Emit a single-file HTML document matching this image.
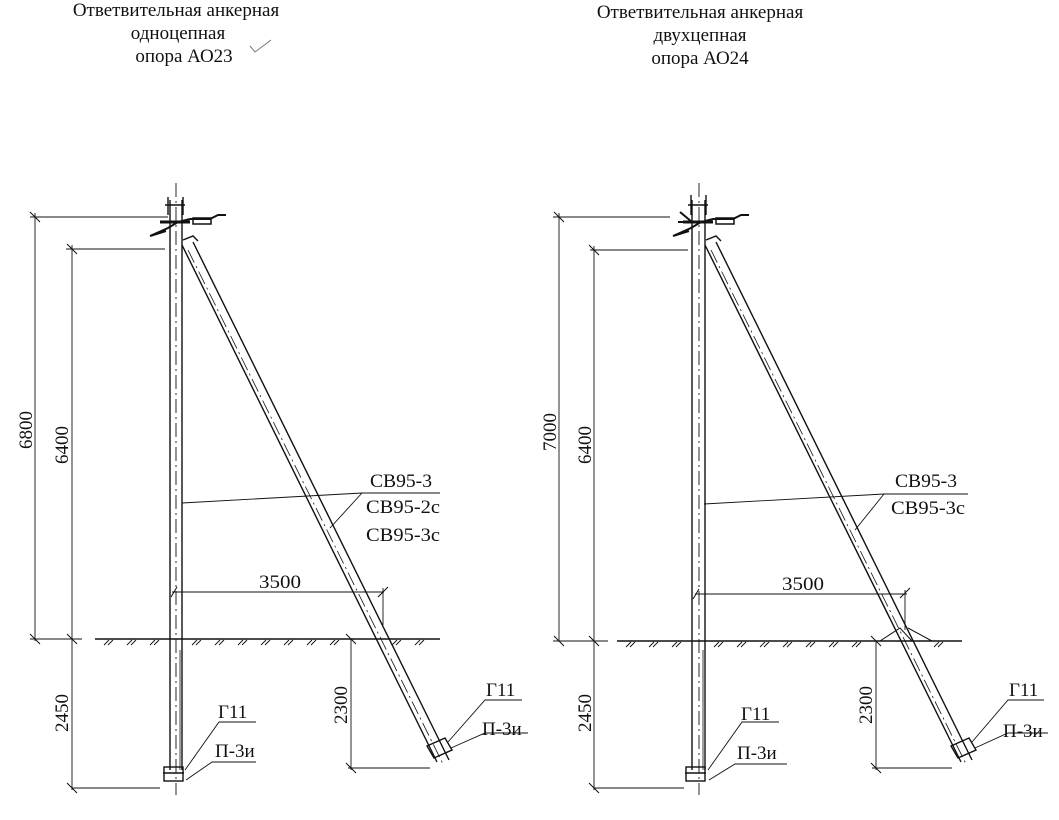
<!DOCTYPE html>
<html><head><meta charset="utf-8"><style>
html,body{margin:0;padding:0;background:#fff}
svg{display:block}
text{font-family:"Liberation Serif","Noto Serif CJK SC",serif;fill:#111}
</style></head><body>
<svg width="1059" height="820" viewBox="0 0 1059 820" xmlns="http://www.w3.org/2000/svg">
<g font-size="19" text-anchor="middle">
<text x="176" y="16">Ответвительная анкерная</text>
<text x="178" y="39">одноцепная</text>
<text x="184" y="62">опора АО23</text>
<text x="700" y="18">Ответвительная анкерная</text>
<text x="700" y="41">двухцепная</text>
<text x="700" y="64">опора АО24</text>
</g>
<path d="M250 46 l5 6 l16 -12" stroke="#777" fill="none" stroke-width="1"/>

<g stroke="#111" fill="none" stroke-width="1.4">
<line x1="176" y1="183" x2="176" y2="795" stroke-width="0.9" stroke-dasharray="14 4 2 4"/>
<line x1="170" y1="200" x2="170" y2="770"/>
<line x1="182" y1="200" x2="182" y2="770"/>
<line x1="180" y1="650" x2="180" y2="770" stroke-width="0.8"/>
<rect x="164" y="767" width="19" height="14"/>
<line x1="163" y1="773" x2="184" y2="773"/>
<path d="M165 205 h20 M168 197 v18 M183 197 v18"/>
<path d="M150 236 l18 -8 l10 -6 l12 -3 l20 0 l8 -4 h8 M150 236 l16 -5" stroke-width="2"/>
<path d="M193 218 h18 v6 h-18z" stroke-width="1.5"/>
<path d="M160 222 h30" stroke-width="3"/>
<line x1="182" y1="245" x2="437" y2="762"/>
<line x1="193" y1="242" x2="449" y2="760"/>
<line x1="188" y1="250" x2="444" y2="766" stroke-width="0.8" stroke-dasharray="14 4 2 4"/>
<path d="M183 240 l10 -4 l5 5 M427 746 l18 -8 l7 12 l-18 8z"/>
<line x1="30" y1="217" x2="168" y2="217" stroke-width="0.9"/>
<line x1="35" y1="213" x2="35" y2="641" stroke-width="0.9"/>
<line x1="66" y1="249" x2="165" y2="249" stroke-width="0.9"/>
<line x1="72" y1="245" x2="72" y2="790" stroke-width="0.9"/>
<line x1="72" y1="788" x2="160" y2="788" stroke-width="0.9"/>
<path d="M30 212 l10 10 M30 634 l10 10 M67 244 l10 10 M67 634 l10 10 M67 783 l10 10 M171 597 l6 -10 M378 597 l10 -10 M346 634 l10 10 M346 763 l10 10" stroke-width="1"/>
<line x1="30" y1="639" x2="82" y2="639" stroke-width="0.9"/>
<line x1="95" y1="639" x2="440" y2="639"/>
<path d="M104 645 l5 -5 M108 645 l5 -5 M127 645 l5 -5 M131 645 l5 -5 M150 645 l5 -5 M154 645 l5 -5 M192 645 l5 -5 M196 645 l5 -5 M215 645 l5 -5 M219 645 l5 -5 M238 645 l5 -5 M242 645 l5 -5 M261 645 l5 -5 M265 645 l5 -5 M284 645 l5 -5 M288 645 l5 -5 M307 645 l5 -5 M311 645 l5 -5 M330 645 l5 -5 M334 645 l5 -5 M392 645 l5 -5 M396 645 l5 -5 M415 645 l5 -5 M419 645 l5 -5" stroke-width="0.9"/>
<line x1="172" y1="592" x2="384" y2="592" stroke-width="0.9"/>
<line x1="383" y1="588" x2="383" y2="625" stroke-width="0.9"/>
<line x1="351" y1="639" x2="351" y2="770" stroke-width="0.9"/>
<line x1="348" y1="768" x2="430" y2="768" stroke-width="0.9"/>
<path d="M182 503 L362 493 H440 M362 493 L330 528" stroke-width="0.9"/>
<path d="M185 770 L219 722 H256 M186 780 L212 762 H256 M448 742 L485 700 H522 M451 748 L485 733 H528" stroke-width="0.9"/>

<line x1="699" y1="183" x2="699" y2="795" stroke-width="0.9" stroke-dasharray="14 4 2 4"/>
<line x1="692" y1="200" x2="692" y2="770"/>
<line x1="705" y1="200" x2="705" y2="770"/>
<line x1="703" y1="650" x2="703" y2="770" stroke-width="0.8"/>
<rect x="686" y="767" width="19" height="14"/>
<line x1="685" y1="773" x2="706" y2="773"/>
<path d="M688 205 h20 M691 195 v20 M706 195 v20"/>
<path d="M673 236 l18 -8 l10 -6 l12 -3 l20 0 l8 -4 h8 M673 236 l16 -5 M680 212 l12 10 M678 222 h14" stroke-width="2"/>
<path d="M716 218 h18 v6 h-18z" stroke-width="1.5"/>
<path d="M683 222 h30" stroke-width="3"/>
<line x1="705" y1="245" x2="961" y2="762"/>
<line x1="716" y1="242" x2="972" y2="760"/>
<line x1="711" y1="250" x2="967" y2="766" stroke-width="0.8" stroke-dasharray="14 4 2 4"/>
<path d="M706 240 l10 -4 l5 5 M951 746 l18 -8 l7 12 l-18 8z"/>
<line x1="553" y1="217" x2="670" y2="217" stroke-width="0.9"/>
<line x1="559" y1="213" x2="559" y2="641" stroke-width="0.9"/>
<line x1="590" y1="250" x2="688" y2="250" stroke-width="0.9"/>
<line x1="594" y1="246" x2="594" y2="790" stroke-width="0.9"/>
<line x1="594" y1="788" x2="684" y2="788" stroke-width="0.9"/>
<path d="M554 212 l10 10 M554 636 l10 10 M589 245 l10 10 M589 636 l10 10 M589 783 l10 10 M693 599 l6 -10 M900 598 l10 -10 M871 636 l10 10 M871 763 l10 10" stroke-width="1"/>
<line x1="553" y1="641" x2="608" y2="641" stroke-width="0.9"/>
<line x1="617" y1="641" x2="962" y2="641"/>
<path d="M626 647 l5 -5 M630 647 l5 -5 M649 647 l5 -5 M653 647 l5 -5 M672 647 l5 -5 M676 647 l5 -5 M714 647 l5 -5 M718 647 l5 -5 M737 647 l5 -5 M741 647 l5 -5 M760 647 l5 -5 M764 647 l5 -5 M783 647 l5 -5 M787 647 l5 -5 M806 647 l5 -5 M810 647 l5 -5 M829 647 l5 -5 M833 647 l5 -5 M852 647 l5 -5 M856 647 l5 -5 M934 647 l5 -5 M938 647 l5 -5" stroke-width="0.9"/>
<path d="M880 641 L900 628 L912 641 M908 628 L932 641" stroke-width="1"/>
<line x1="695" y1="594" x2="907" y2="594" stroke-width="0.9"/>
<line x1="905" y1="590" x2="905" y2="630" stroke-width="0.9"/>
<line x1="876" y1="641" x2="876" y2="770" stroke-width="0.9"/>
<line x1="872" y1="768" x2="952" y2="768" stroke-width="0.9"/>
<path d="M704 504 L884 494 H968 M884 494 L855 530" stroke-width="0.9"/>
<path d="M708 770 L742 722 H779 M709 780 L735 764 H787 M972 742 L1008 700 H1044 M975 748 L1008 733 H1048" stroke-width="0.9"/>
</g>

<g font-size="19">
<text x="370" y="487" textLength="62" lengthAdjust="spacingAndGlyphs">СВ95-3</text>
<text x="366" y="513" textLength="74" lengthAdjust="spacingAndGlyphs">СВ95-2с</text>
<text x="366" y="541" textLength="74" lengthAdjust="spacingAndGlyphs">СВ95-3с</text>
<text x="259" y="588" textLength="42" lengthAdjust="spacingAndGlyphs">3500</text>
<text x="218" y="718">Г11</text>
<text x="215" y="757">П-3и</text>
<text x="486" y="696">Г11</text>
<text x="482" y="735">П-3и</text>
<text transform="translate(32 430) rotate(-90)" text-anchor="middle">6800</text>
<text transform="translate(68 445) rotate(-90)" text-anchor="middle">6400</text>
<text transform="translate(68 713) rotate(-90)" text-anchor="middle">2450</text>
<text transform="translate(347 705) rotate(-90)" text-anchor="middle">2300</text>

<text x="895" y="487" textLength="62" lengthAdjust="spacingAndGlyphs">СВ95-3</text>
<text x="891" y="514" textLength="74" lengthAdjust="spacingAndGlyphs">СВ95-3с</text>
<text x="782" y="590" textLength="42" lengthAdjust="spacingAndGlyphs">3500</text>
<text x="741" y="720">Г11</text>
<text x="737" y="759">П-3и</text>
<text x="1009" y="696">Г11</text>
<text x="1003" y="737">П-3и</text>
<text transform="translate(556 432) rotate(-90)" text-anchor="middle">7000</text>
<text transform="translate(591 445) rotate(-90)" text-anchor="middle">6400</text>
<text transform="translate(591 713) rotate(-90)" text-anchor="middle">2450</text>
<text transform="translate(872 705) rotate(-90)" text-anchor="middle">2300</text>
</g>
</svg>
</body></html>
